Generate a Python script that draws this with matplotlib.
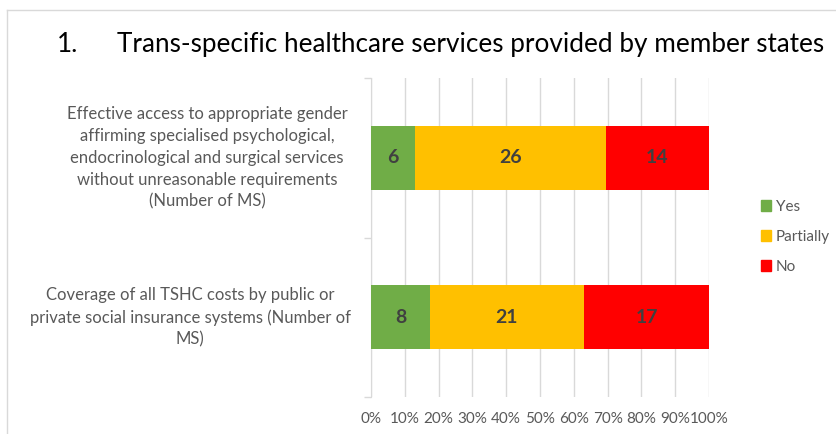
import numpy as np
import matplotlib.pyplot as plt
import matplotlib.patches as mpatches
from matplotlib.lines import Line2D

# Data
categories = [
    "Effective access to appropriate gender\naffirming specialised psychological,\nendocrinological and surgical services\nwithout unreasonable requirements\n(Number of MS)",
    "Coverage of all TSHC costs by public or\nprivate social insurance systems (Number of\nMS)",
]
yes_vals = [6, 8]
partially_vals = [26, 21]
no_vals = [14, 17]
series_names = ["Yes", "Partially", "No"]
series_colors = ["#70AD47", "#FFC000", "#FF0000"]
xtick_labels = ["0%", "10%", "20%", "30%", "40%", "50%", "60%", "70%", "80%", "90%", "100%"]

GREY = "#595959"
LABEL_FONT = "Lato"

fig = plt.figure(figsize=(8.37, 4.34), dpi=100)
ax = fig.add_axes([371 / 837, 1 - 397 / 434, 338 / 837, 319 / 434])

series = np.array([yes_vals, partially_vals, no_vals], dtype=float)
totals = series.sum(axis=0)
shares = series / totals * 100

# categories top to bottom
ypos = np.arange(len(categories))[::-1]
left = np.zeros(len(categories))
for vals, share, name, color in zip(series, shares, series_names, series_colors):
    ax.barh(ypos, share, left=left, height=0.4, color=color, edgecolor="none",
            label=name, zorder=3)
    for y, l, s, v in zip(ypos, left, share, vals):
        ax.text(l + s / 2, y, f"{int(v)}", ha="center", va="center",
                fontsize=14, fontweight="bold", color="#404040",
                family=LABEL_FONT, zorder=4)
    left = left + share

ax.set_xlim(0, 100)
ax.set_ylim(-0.5, len(categories) - 0.5)
ax.set_xticks(np.arange(0, 101, 10))
ax.set_xticklabels(xtick_labels, fontsize=11, color=GREY, family=LABEL_FONT)
ax.tick_params(axis="x", length=0, pad=11)
ax.grid(axis="x", color="#D9D9D9", linewidth=1, zorder=0)

# category boundaries as ticks on the left axis
ax.set_yticks(np.arange(-0.5, len(categories), 1.0))
ax.set_yticklabels([])
ax.tick_params(axis="y", length=5, color="#D9D9D9", width=1)
label_x = [-0.485, -0.535]
for y, lab, lx in zip(ypos, categories, label_x):
    ax.text(lx, y, lab, transform=ax.get_yaxis_transform(), ha="center",
            va="center", fontsize=12, color=GREY, family=LABEL_FONT,
            linespacing=1.45)

for side in ["top", "right", "bottom"]:
    ax.spines[side].set_visible(False)
ax.spines["left"].set_color("#D9D9D9")

# legend
handles = [mpatches.Patch(color=c, label=n) for n, c in zip(series_names, series_colors)]
leg = fig.legend(handles=handles, loc="center left", bbox_to_anchor=(747 / 837, 1 - 237 / 434),
                 frameon=False, handlelength=0.7, handleheight=0.7,
                 handletextpad=0.3, labelspacing=1.05, prop={"family": LABEL_FONT, "size": 11})
for t in leg.get_texts():
    t.set_color(GREY)

# title
fig.text(57 / 837, 1 - 52 / 434, "1.", fontsize=18.8, color="black",
         family=LABEL_FONT, va="baseline")
fig.text(117 / 837, 1 - 52 / 434, "Trans-specific healthcare services provided by member states",
         fontsize=18.8, color="black", family=LABEL_FONT, va="baseline")

# chart frame (visible part)
fig.add_artist(Line2D([7 / 837, 7 / 837], [0, 1 - 10 / 434], transform=fig.transFigure,
                      color="#D9D9D9", linewidth=1))
fig.add_artist(Line2D([7 / 837, 1], [1 - 10 / 434, 1 - 10 / 434], transform=fig.transFigure,
                      color="#D9D9D9", linewidth=1))

fig.savefig("out.png", dpi=100)
